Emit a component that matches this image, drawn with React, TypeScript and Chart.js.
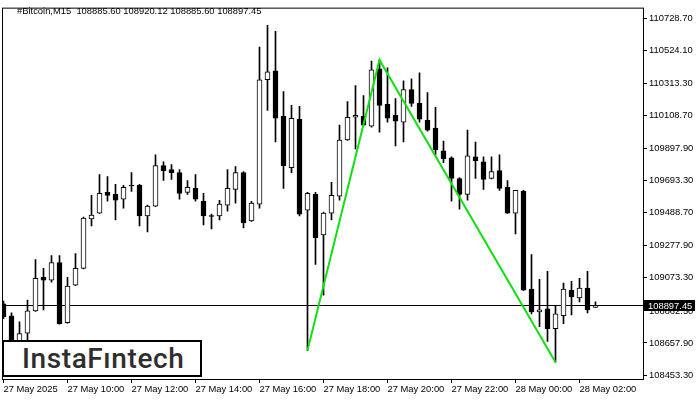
import React, { useEffect, useRef } from "react";
import { Chart, registerables } from "chart.js";

Chart.register(...registerables);

const symbolTitle = "#Bitcoin,M15  108885.60 108920.12 108885.60 108897.45";
const logoText = "InstaFıntech";

const timeLabels = [
  "27 May 2025", "27 May 10:00", "27 May 12:00", "27 May 14:00", "27 May 16:00",
  "27 May 18:00", "27 May 20:00", "27 May 22:00", "28 May 00:00", "28 May 02:00",
];
const timeTickIndex = [0, 8, 16, 24, 32, 40, 48, 56, 64, 72];

const priceTicks = [
  110728.7, 110524.1, 110313.3, 110108.7, 109897.9, 109693.3,
  109488.7, 109277.9, 109073.3, 108862.5, 108657.9, 108453.3,
];
const priceMin = 108428.1;
const priceMax = 110798.0;
const lastPrice = 108897.45;

const opens = [
  108907.1, 108831.5, 108547.8, 108720.0, 108863.0, 109077.3, 109058.4, 109171.8, 108787.3, 109026.8,
  109134.0, 109449.1, 109487.0, 109619.3, 109606.7, 109575.2, 109660.0, 109663.5, 109468.1, 109531.1,
  109789.5, 109764.3, 109745.4, 109619.3, 109644.5, 109562.6, 109468.1, 109468.1, 109537.4, 109638.2,
  109745.4, 109436.5, 109543.7, 110337.9, 110394.6, 110104.7, 109776.9, 110085.8, 109505.9, 109606.7,
  109348.3, 109487.0, 109594.1, 109953.4, 110098.4, 110104.7, 110041.6, 110407.2, 110180.3, 110111.0,
  110066.8, 110274.8, 110186.6, 110079.4, 110029.0, 109884.1, 109839.9, 109707.6, 109606.7, 109846.2,
  109814.7, 109707.6, 109758.0, 109650.8, 109487.0, 109625.6, 109001.6, 108856.7, 108875.6, 108749.5,
  108831.5, 108995.3, 108944.9, 109007.9, 108885.6,
];
const highs = [
  108926.0, 108850.4, 108793.6, 108932.3, 109190.7, 109134.0, 109215.9, 109215.9, 109077.3, 109228.5,
  109461.8, 109600.4, 109732.8, 109720.2, 109669.8, 109663.5, 109745.4, 109669.8, 109537.4, 109858.8,
  109814.7, 109795.8, 109764.3, 109695.0, 109732.8, 109613.0, 109480.7, 109568.9, 109764.3, 109783.2,
  109751.7, 109562.6, 110545.9, 110684.5, 110646.7, 110262.2, 110174.0, 110167.7, 109619.3, 109619.3,
  109493.3, 109682.4, 110047.9, 110199.2, 110300.1, 110237.0, 110457.6, 110463.9, 110413.5, 110218.1,
  110331.6, 110344.2, 110382.0, 110255.9, 110161.4, 109947.1, 109846.2, 109713.9, 110016.4, 109940.8,
  109846.2, 109846.2, 109858.8, 109695.0, 109631.9, 109631.9, 109222.2, 109064.7, 109115.1, 108894.5,
  109039.5, 109052.1, 109071.0, 109115.1, 108920.12,
];
const lows = [
  108812.5, 108484.8, 108497.4, 108642.4, 108860.0, 108869.3, 109045.8, 108778.0, 108784.0, 109024.0,
  109131.0, 109405.0, 109484.0, 109562.6, 109442.8, 109518.5, 109625.6, 109405.0, 109367.2, 109528.0,
  109695.0, 109701.3, 109575.2, 109606.7, 109562.6, 109411.3, 109386.1, 109442.8, 109499.6, 109550.0,
  109392.4, 109433.0, 109518.5, 110142.5, 109940.8, 109644.5, 109745.4, 109468.1, 108610.8, 109159.2,
  108963.8, 109442.8, 109568.9, 109950.0, 109896.7, 110045.0, 110035.3, 110003.8, 110066.8, 109915.6,
  109940.8, 110167.7, 110066.8, 110010.1, 109858.8, 109808.4, 109562.6, 109512.2, 109568.9, 109707.6,
  109638.2, 109705.0, 109631.9, 109485.0, 109354.6, 108993.0, 108844.1, 108762.1, 108667.6, 108535.2,
  108781.0, 108837.8, 108919.7, 108850.4, 108885.6,
];
const closes = [
  108825.2, 108516.3, 108718.0, 108863.0, 109071.0, 109058.4, 109171.8, 108781.0, 109020.5, 109134.0,
  109455.5, 109474.4, 109613.0, 109600.4, 109568.9, 109650.8, 109663.5, 109468.1, 109531.1, 109789.5,
  109758.0, 109745.4, 109613.0, 109650.8, 109575.2, 109468.1, 109465.0, 109543.7, 109644.5, 109745.4,
  109423.9, 109550.0, 110337.9, 110388.3, 110092.1, 109789.5, 110092.1, 109480.7, 109613.0, 109329.4,
  109487.0, 109600.4, 109953.4, 110098.4, 110111.0, 110047.9, 110400.9, 110174.0, 110092.1, 110073.1,
  110274.8, 110186.6, 110085.8, 110016.4, 109890.4, 109833.6, 109707.6, 109606.7, 109852.5, 109821.0,
  109701.3, 109751.7, 109644.5, 109487.0, 109631.9, 108995.3, 108856.7, 108869.3, 108749.5, 108844.1,
  109001.6, 108951.2, 109007.9, 108869.3, 108897.45,
];

const patternIndex = [38, 47, 69];
const patternPrice = [108610.8, 110463.9, 108535.2];

const FONT = '"Liberation Sans", Arial, sans-serif';

const framePlugin = {
  id: "mtFrame",
  beforeDatasetsDraw(chart: any) {
    const { ctx, chartArea: a, scales } = chart;
    const py = Math.floor(scales.y.getPixelForValue(lastPrice)) + 0.5;
    ctx.save();
    ctx.strokeStyle = "#000";
    ctx.lineWidth = 1;
    ctx.beginPath();
    ctx.moveTo(a.left, py);
    ctx.lineTo(a.right, py);
    ctx.stroke();
    ctx.restore();
  },
  afterDraw(chart: any) {
    const { ctx, chartArea: a, scales } = chart;
    ctx.save();
    ctx.strokeStyle = "#000";
    ctx.lineWidth = 1;
    ctx.strokeRect(a.left + 0.5, a.top + 0.5, a.right - a.left, a.bottom - a.top);
    const py = Math.floor(scales.y.getPixelForValue(lastPrice)) + 0.5;
    ctx.fillStyle = "#000";
    ctx.fillRect(a.right + 1, py - 5.5, 51, 11);
    ctx.fillStyle = "#fff";
    ctx.font = `9.4px ${FONT}`;
    ctx.textBaseline = "middle";
    ctx.textAlign = "left";
    ctx.fillText(lastPrice.toFixed(2), a.right + 5, py + 0.5);
    ctx.restore();
  },
};

export default function App() {
  const ref = useRef<HTMLCanvasElement>(null);

  useEffect(() => {
    const idx = opens.map((_, i) => i);
    const wickData = idx.map((i) => ({ x: i, y: [lows[i], highs[i]] }));
    const bodyData = idx.map((i) => ({ x: i, y: [opens[i], closes[i]] }));
    const bodyColors = idx.map((i) =>
      Math.abs(closes[i] - opens[i]) < 8 ? "#000" : closes[i] >= opens[i] ? "#fff" : "#000"
    );
    const patternData = patternIndex.map((x, j) => ({ x, y: patternPrice[j] }));

    const tickFont = { family: FONT, size: 9.4 };

    const chart = new Chart(ref.current as HTMLCanvasElement, {
      type: "bar",
      data: {
        datasets: [
          {
            type: "line",
            data: patternData as any,
            borderColor: "#10e010",
            borderWidth: 2,
            pointRadius: 0,
            fill: false,
            tension: 0,
            clip: 0 as any,
          } as any,
          {
            type: "bar",
            data: bodyData as any,
            backgroundColor: bodyColors,
            borderColor: "#000",
            borderWidth: 1,
            borderSkipped: false,
            barThickness: 5,
            grouped: false,
            minBarLength: 1,
            clip: 0 as any,
          } as any,
          {
            type: "bar",
            data: wickData as any,
            backgroundColor: "#000",
            borderWidth: 0,
            barThickness: 1,
            grouped: false,
            clip: 0 as any,
          } as any,
        ],
      },
      options: {
        responsive: false,
        animation: false,
        events: [],
        layout: { padding: { left: 2, top: 3, right: 0, bottom: 0 } },
        plugins: {
          legend: { display: false },
          tooltip: { enabled: false },
          title: { display: false },
        },
        scales: {
          x: {
            type: "linear",
            position: "bottom",
            min: -0.1875,
            max: 79.9375,
            offset: false,
            grid: {
              display: true,
              drawOnChartArea: false,
              drawTicks: true,
              tickLength: 4,
              color: "#000",
              tickColor: "#000",
              offset: false,
            },
            border: { display: false },
            ticks: {
              autoSkip: false,
              maxRotation: 0,
              minRotation: 0,
              align: "start",
              padding: 1,
              color: "#000",
              font: tickFont,
              callback: (_v: any, i: number) => timeLabels[i],
            },
            afterBuildTicks: (s: any) => {
              s.ticks = timeTickIndex.map((v) => ({ value: v }));
            },
            afterFit: (s: any) => {
              s.height = 21;
            },
          } as any,
          y: {
            type: "linear",
            position: "right",
            min: priceMin,
            max: priceMax,
            grid: {
              display: true,
              drawOnChartArea: false,
              drawTicks: true,
              tickLength: 4,
              color: "#000",
              tickColor: "#000",
            },
            border: { display: false },
            ticks: {
              autoSkip: false,
              padding: 2,
              color: "#000",
              font: tickFont,
              callback: (v: any) => Number(v).toFixed(2),
            },
            afterBuildTicks: (s: any) => {
              s.ticks = priceTicks.map((v) => ({ value: v }));
            },
            afterFit: (s: any) => {
              s.width = 57;
            },
          } as any,
        },
      },
      plugins: [framePlugin],
    });
    return () => chart.destroy();
  }, []);

  return (
    <div
      style={{
        position: "fixed",
        left: 0,
        top: 0,
        width: 700,
        height: 400,
        background: "#fff",
        overflow: "hidden",
      }}
    >
      <canvas ref={ref} width={700} height={400} style={{ display: "block", width: 700, height: 400 }} />
      <div
        style={{
          position: "absolute",
          left: 17,
          top: 5,
          fontFamily: FONT,
          fontSize: 9.4,
          lineHeight: "12px",
          color: "#000",
          whiteSpace: "pre",
        }}
      >
        {symbolTitle}
      </div>
      <div
        style={{
          position: "absolute",
          left: 2,
          top: 340,
          width: 200,
          height: 37,
          boxSizing: "border-box",
          border: "2px solid #000",
          background: "#fff",
          paddingLeft: 18,
          fontFamily: "Roboto, sans-serif",
          fontSize: 28,
          fontWeight: 500,
          letterSpacing: 0.6,
          lineHeight: "34px",
          color: "#2e2e2e",
          whiteSpace: "pre",
        }}
      >
        {logoText}
      </div>
    </div>
  );
}
